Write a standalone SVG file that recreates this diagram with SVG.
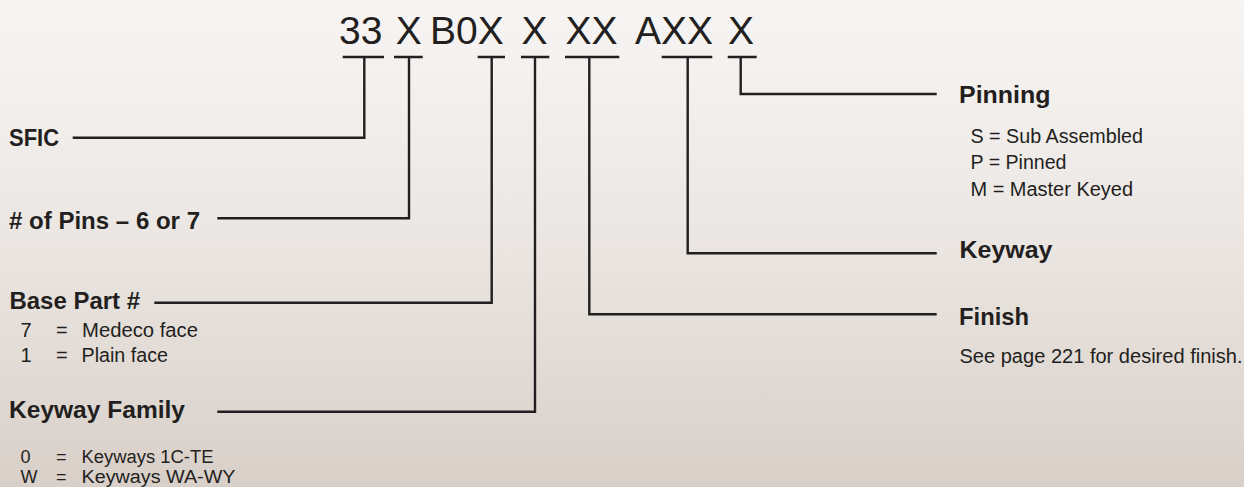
<svg xmlns="http://www.w3.org/2000/svg" width="1244" height="487" viewBox="0 0 1244 487">
  <defs>
    <linearGradient id="bg" x1="0" y1="0" x2="0" y2="1">
      <stop offset="0" stop-color="#f7f5f4"/>
      <stop offset="0.5" stop-color="#ebe6e2"/>
      <stop offset="1" stop-color="#d8cfc8"/>
    </linearGradient>
  </defs>
  <style>
    .code { font-family: "Liberation Sans", Arial, sans-serif; font-size: 39px; fill: #231f20; }
    .head { font-family: "Liberation Sans", Arial, sans-serif; font-size: 24px; font-weight: bold; fill: #231f20; }
    .body { font-family: "Liberation Sans", Arial, sans-serif; font-size: 20px; fill: #231f20; }
    .small { font-family: "Liberation Sans", Arial, sans-serif; font-size: 18px; fill: #231f20; }
    .ln { fill: none; stroke: #231f20; stroke-width: 2.4; stroke-linejoin: miter; stroke-linecap: butt; }
  </style>
  <rect x="0" y="0" width="1244" height="487" fill="url(#bg)"/>

  <g id="code">
    <text class="code" x="339" y="43.5">33</text>
    <text class="code" x="395.7" y="43.5">X</text>
    <text class="code" x="430" y="43.5">B0X</text>
    <text class="code" x="521.5" y="43.5">X</text>
    <text class="code" x="565.5" y="43.5">XX</text>
    <text class="code" x="635" y="43.5">AXX</text>
    <text class="code" x="728" y="43.5">X</text>
  </g>

  <g id="connectors">
    <path class="ln" d="M342.7 57H384M364.3 57V137.7H72.7"/>
    <path class="ln" d="M394 57H422.7M409 57V218.3H217.3"/>
    <path class="ln" d="M477.7 57H505M491.7 57V302.7H154.3"/>
    <path class="ln" d="M521 57H549.3M535 57V411.7H217.3"/>
    <path class="ln" d="M565 57H619.3M589.3 57V314.3H936.7"/>
    <path class="ln" d="M661.7 57H712.3M687.7 57V253.3H936.7"/>
    <path class="ln" d="M727.7 57H756.7M740.7 57V94H936.7"/>
  </g>

  <g id="sfic">
    <text class="head" x="9" y="145.7" textLength="50" lengthAdjust="spacingAndGlyphs">SFIC</text>
  </g>

  <g id="pins">
    <text class="head" x="9" y="229" textLength="191" lengthAdjust="spacingAndGlyphs"># of Pins – 6 or 7</text>
  </g>

  <g id="base-part">
    <text class="head" x="9.5" y="309.3" textLength="130.5" lengthAdjust="spacingAndGlyphs">Base Part #</text>
    <text class="body" x="20.5" y="336.7">7</text>
    <text class="body" x="56" y="336.7">=</text>
    <text class="body" x="82" y="336.7" textLength="116" lengthAdjust="spacingAndGlyphs">Medeco face</text>
    <text class="body" x="20.5" y="362.3">1</text>
    <text class="body" x="56" y="362.3">=</text>
    <text class="body" x="81.5" y="362.3" textLength="86.5" lengthAdjust="spacingAndGlyphs">Plain face</text>
  </g>

  <g id="keyway-family">
    <text class="head" x="9" y="418" textLength="176" lengthAdjust="spacingAndGlyphs">Keyway Family</text>
    <text class="small" x="20.5" y="462.5">0</text>
    <text class="small" x="56" y="462.5">=</text>
    <text class="small" x="81.5" y="462.5" textLength="132" lengthAdjust="spacingAndGlyphs">Keyways 1C-TE</text>
    <text class="small" x="20.5" y="482.5">W</text>
    <text class="small" x="56" y="482.5">=</text>
    <text class="small" x="81.5" y="482.5" textLength="154" lengthAdjust="spacingAndGlyphs">Keyways WA-WY</text>
  </g>

  <g id="pinning">
    <text class="head" x="959" y="103.3" textLength="91.5" lengthAdjust="spacingAndGlyphs">Pinning</text>
    <text class="body" x="970.5" y="143.3" textLength="172.5" lengthAdjust="spacingAndGlyphs">S = Sub Assembled</text>
    <text class="body" x="970.5" y="169.3" textLength="96" lengthAdjust="spacingAndGlyphs">P = Pinned</text>
    <text class="body" x="970.5" y="196" textLength="162.5" lengthAdjust="spacingAndGlyphs">M = Master Keyed</text>
  </g>

  <g id="keyway">
    <text class="head" x="959.5" y="258.3" textLength="93" lengthAdjust="spacingAndGlyphs">Keyway</text>
  </g>

  <g id="finish">
    <text class="head" x="959" y="324.5" textLength="70" lengthAdjust="spacingAndGlyphs">Finish</text>
    <text class="body" x="959.5" y="363.3" textLength="283" lengthAdjust="spacingAndGlyphs">See page 221 for desired finish.</text>
  </g>
</svg>
